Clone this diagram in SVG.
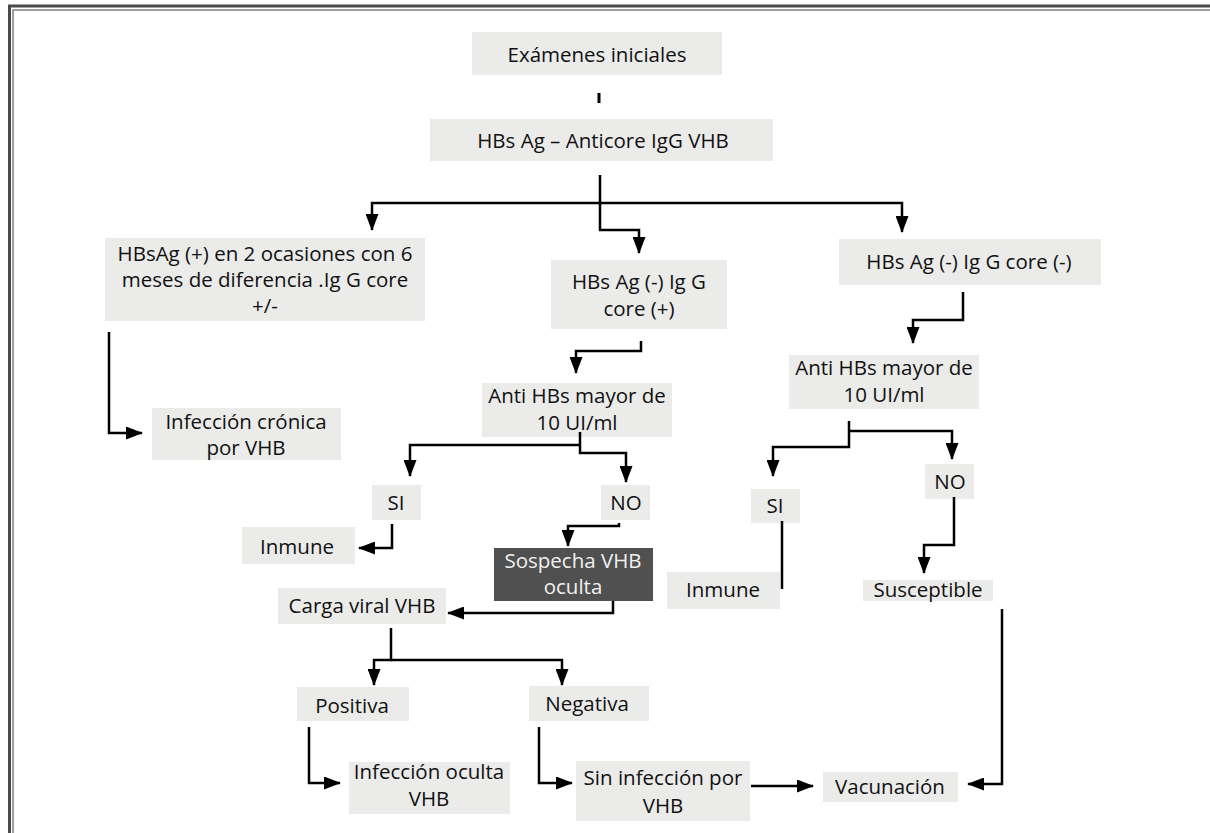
<svg xmlns="http://www.w3.org/2000/svg" width="1210" height="833" viewBox="0 0 1210 833">
<defs>
<marker id="arr" markerUnits="userSpaceOnUse" markerWidth="17" markerHeight="13" refX="16" refY="6.5" orient="auto">
<path d="M0,0 L17,6.5 L0,13 z" fill="#000"/>
</marker>
<style>
.box{fill:#ebebea}
.dark{fill:#505050}
text{font-family:"Open Sans","Noto Sans","DejaVu Sans",sans-serif;font-size:20.5px;fill:#111;text-anchor:middle}
.lt{fill:#f0f0f0}
.c{fill:none;stroke:#000;stroke-width:2.5}
.a{marker-end:url(#arr)}
</style>
</defs>
<rect width="1210" height="833" fill="#fff"/>
<g id="frame" fill="none">
<rect x="9.5" y="6" width="1220" height="840" stroke="#4a4a4a" stroke-width="3"/>
<rect x="13" y="10" width="1220" height="840" stroke="#808080" stroke-width="1.5"/>
</g>
<g id="n1"><rect class="box" x="472" y="32" width="250" height="43"/><text x="597" y="62">Exámenes iniciales</text></g>
<g id="n2"><rect class="box" x="430" y="119" width="343" height="42"/><text x="603" y="148">HBs Ag – Anticore IgG VHB</text></g>
<g id="n3"><rect class="box" x="105" y="238" width="320" height="83"/><text x="265" y="261">HBsAg (+) en 2 ocasiones con 6</text><text x="265" y="287">meses de diferencia .Ig G core</text><text x="265" y="313">+/-</text></g>
<g id="n4"><rect class="box" x="551" y="260" width="176" height="69"/><text x="639" y="289">HBs Ag (-) Ig G</text><text x="639" y="316">core (+)</text></g>
<g id="n5"><rect class="box" x="839" y="239" width="262" height="46"/><text x="969" y="269">HBs Ag (-) Ig G core (-)</text></g>
<g id="n6"><rect class="box" x="152" y="408" width="189" height="52"/><text x="246" y="429">Infección crónica</text><text x="246" y="455">por VHB</text></g>
<g id="n7"><rect class="box" x="482" y="383" width="190" height="54"/><text x="577" y="403">Anti HBs mayor de</text><text x="577" y="430">10 UI/ml</text></g>
<g id="n8"><rect class="box" x="789" y="355" width="190" height="54"/><text x="884" y="375">Anti HBs mayor de</text><text x="884" y="402">10 UI/ml</text></g>
<g id="n9"><rect class="box" x="372" y="485" width="49" height="35"/><text x="396" y="510">SI</text></g>
<g id="n10"><rect class="box" x="601" y="485" width="49" height="35"/><text x="626" y="510">NO</text></g>
<g id="n11"><rect class="box" x="242" y="527" width="113" height="37"/><text x="297" y="554">Inmune</text></g>
<g id="n12"><rect class="dark" x="494" y="548" width="159" height="53"/><text class="lt" x="573" y="568">Sospecha VHB</text><text class="lt" x="573" y="594">oculta</text></g>
<g id="n13"><rect class="box" x="278" y="588" width="168" height="36"/><text x="362" y="613">Carga viral VHB</text></g>
<g id="n14"><rect class="box" x="751" y="489" width="49" height="34"/><text x="775" y="513">SI</text></g>
<g id="n15"><rect class="box" x="925" y="464" width="49" height="35"/><text x="950" y="489">NO</text></g>
<g id="n16"><rect class="box" x="667" y="572" width="113" height="37"/><text x="723" y="597">Inmune</text></g>
<g id="n17"><rect class="box" x="863" y="580" width="130" height="21"/><text x="928" y="597">Susceptible</text></g>
<g id="n18"><rect class="box" x="297" y="687" width="112" height="34"/><text x="352" y="713">Positiva</text></g>
<g id="n19"><rect class="box" x="529" y="686" width="120" height="35"/><text x="587" y="711">Negativa</text></g>
<g id="n20"><rect class="box" x="349" y="762" width="161" height="52"/><text x="429" y="779">Infección oculta</text><text x="429" y="806">VHB</text></g>
<g id="n21"><rect class="box" x="576" y="761" width="174" height="60"/><text x="663" y="785">Sin infección por</text><text x="663" y="813">VHB</text></g>
<g id="n22"><rect class="box" x="823" y="772" width="135" height="30"/><text x="890" y="794">Vacunación</text></g>
<g id="connectors">
<line x1="599" y1="93" x2="599" y2="103" stroke="#000" stroke-width="3"/>
<path class="c a" d="M600,175 V230 H639 V253"/>
<path class="c a" d="M600,203 H372 V230"/>
<path class="c a" d="M600,203 H902 V232"/>
<path class="c a" d="M109,332 V433 H142"/>
<path class="c a" d="M641,341 V351 H576 V373"/>
<path class="c a" d="M963,292 V320 H913 V343"/>
<path class="c a" d="M580,432 V453 H626 V482"/>
<path class="c a" d="M580,445 H410 V476"/>
<path class="c a" d="M392,524 V548 H359"/>
<path class="c a" d="M619,523 V526 H568 V546"/>
<path class="c a" d="M613,601 V613 H448"/>
<path class="c a" d="M391,628 V660 H374 V685"/>
<path class="c a" d="M391,660 H562 V685"/>
<path class="c a" d="M309,727 V783 H340"/>
<path class="c a" d="M539,727 V783 H572"/>
<path class="c a" d="M751,786 H813"/>
<path class="c a" d="M1002,609 V784 H968"/>
<path class="c a" d="M849,421 V447 H773 V476"/>
<path class="c a" d="M849,431 H952 V459"/>
<path class="c" d="M782,521 V589"/>
<path class="c a" d="M954,497 V545 H924 V573"/>
</g>
</svg>
